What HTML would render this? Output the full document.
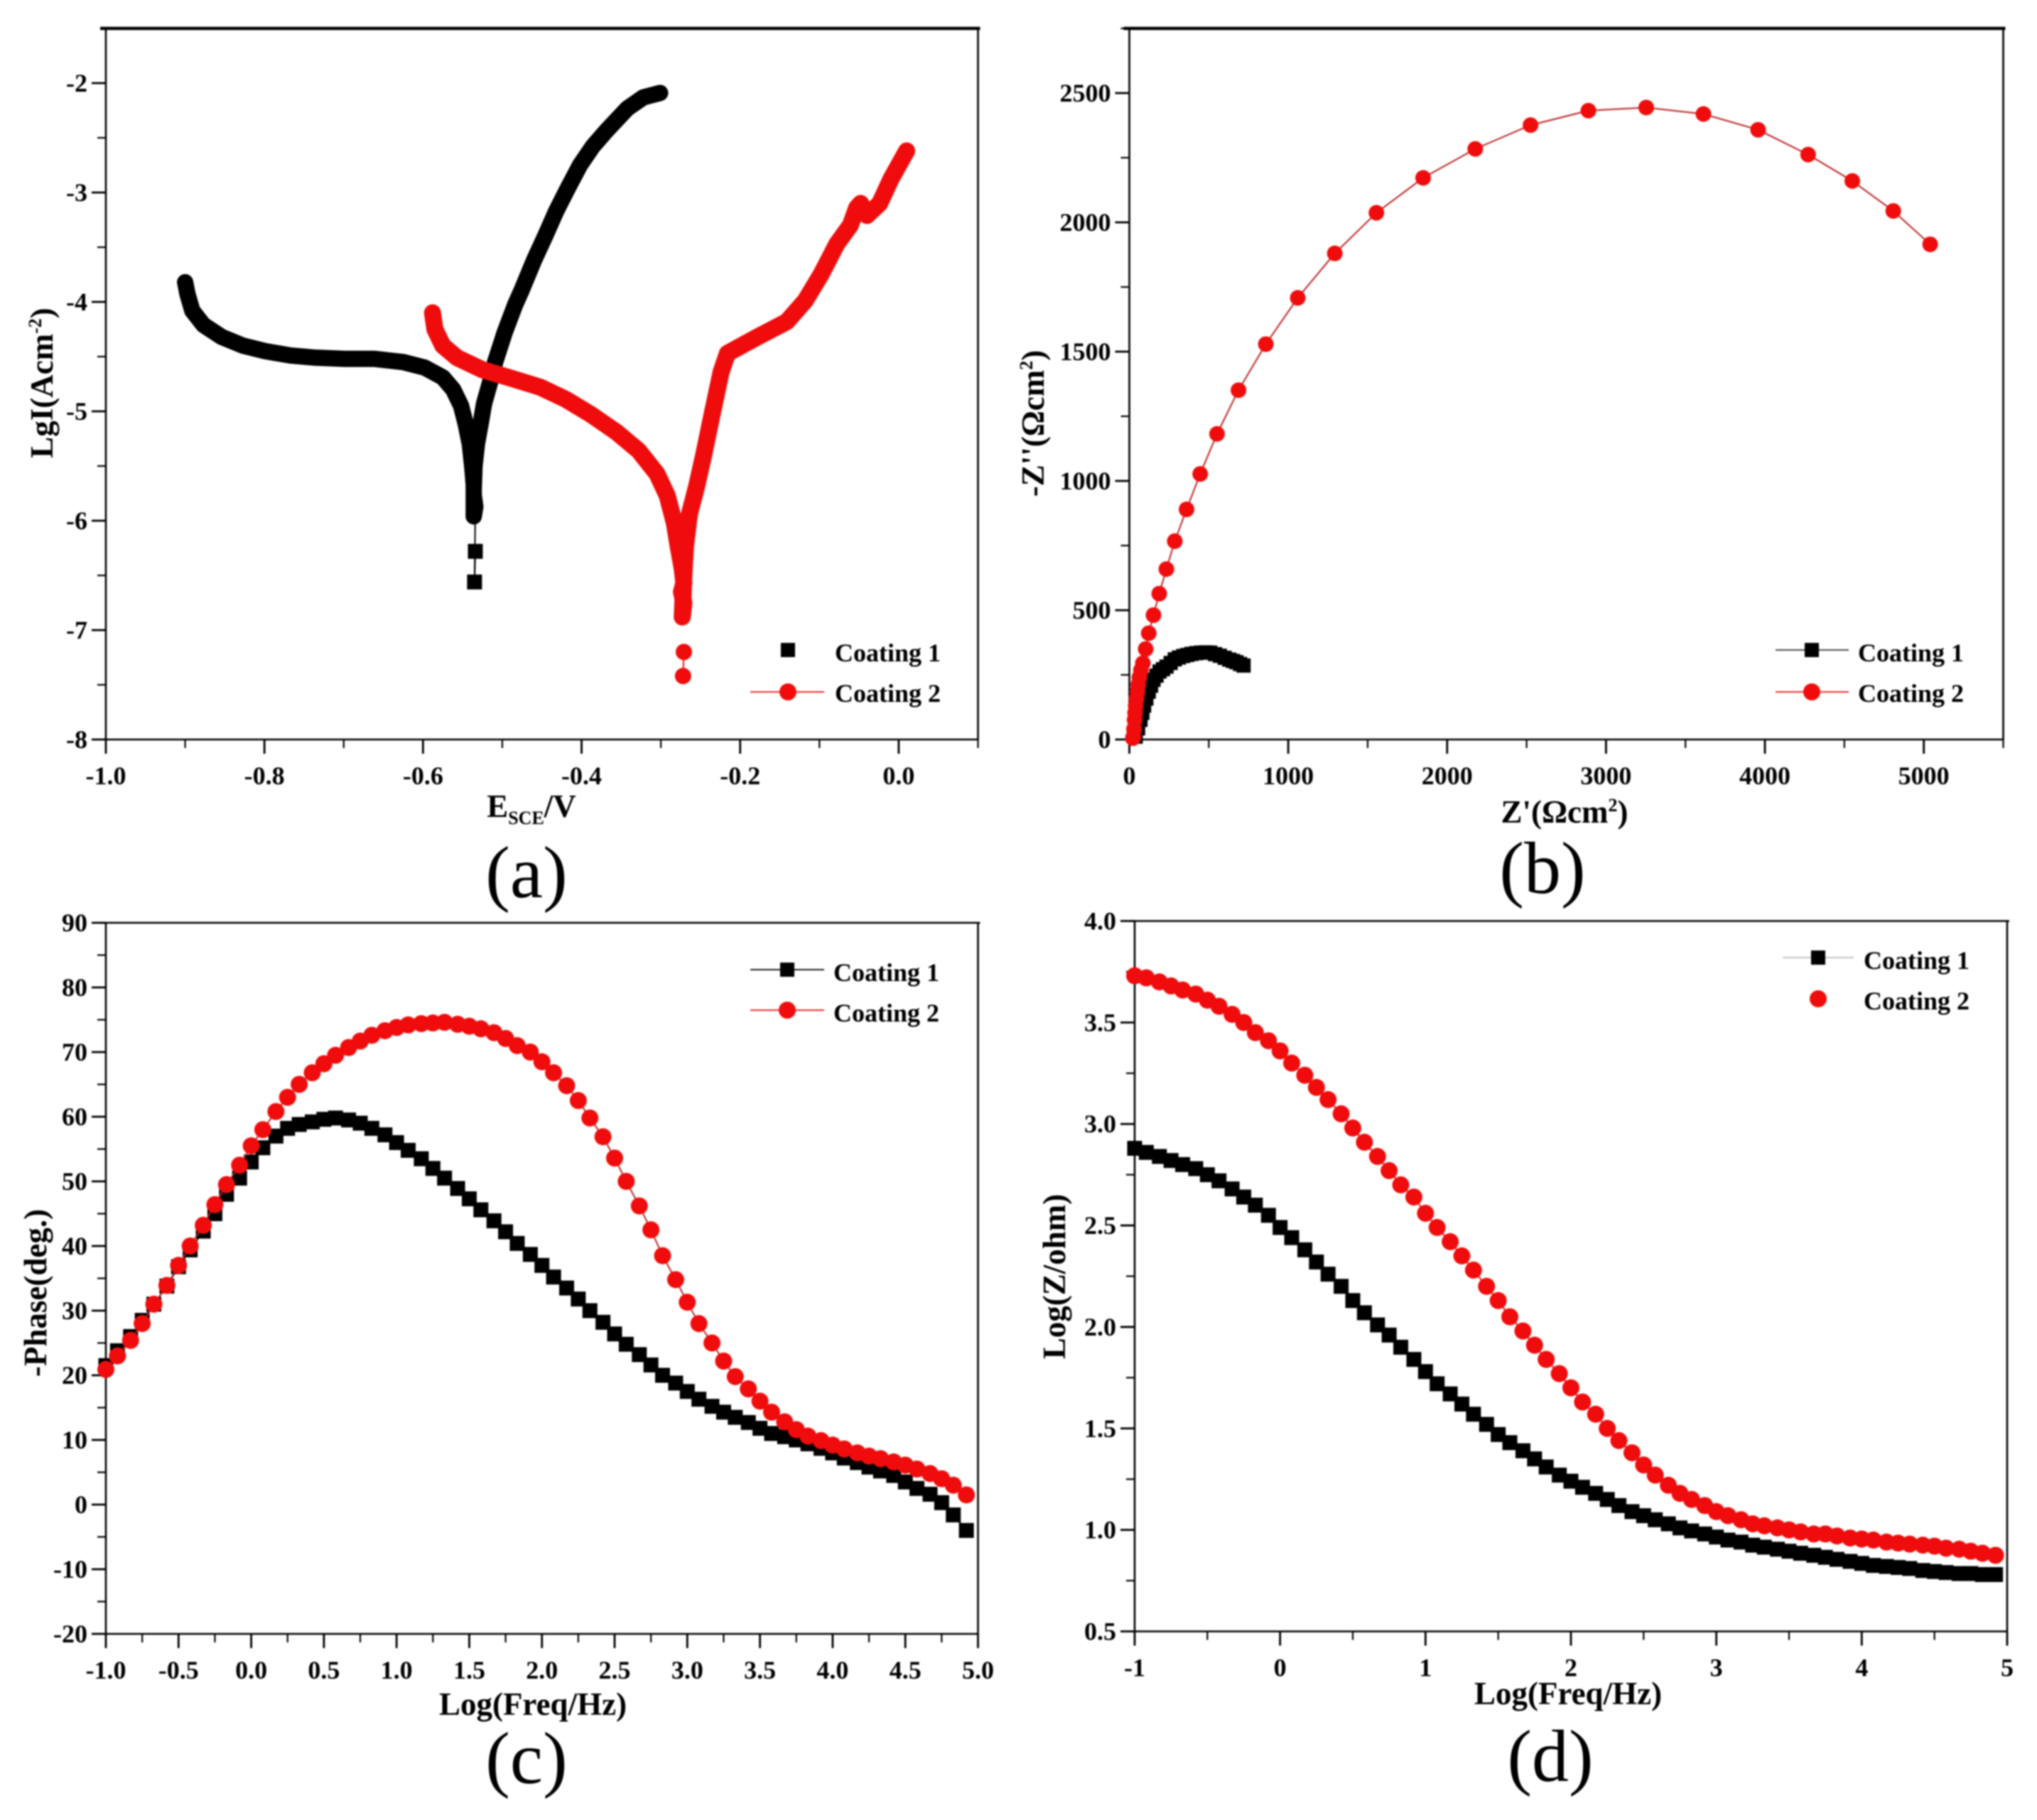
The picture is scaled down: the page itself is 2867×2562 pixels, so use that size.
<!DOCTYPE html>
<html>
<head>
<meta charset="utf-8">
<title>Coating electrochemistry charts</title>
<style>
html,body{margin:0;padding:0;background:#fff}
svg{display:block;filter:blur(1.1px)}
text{font-family:"Liberation Serif",serif;fill:#000}
.tk{font-size:36px;font-weight:bold}
.ttl{font-size:45px;font-weight:bold}
.leg{font-size:36px;font-weight:bold}
.pl{font-size:104px;font-weight:normal}
.sm{font-size:26px}
</style>
</head>
<body>
<svg id="fig" xmlns="http://www.w3.org/2000/svg" width="2867" height="2562" viewBox="0 0 2867 2562">
<rect x="0" y="0" width="2867" height="2562" fill="#fff"/>
<g id="layer-marks"></g>
<text class="ttl" x="748" y="1150" text-anchor="middle">E<tspan class="sm" dy="10">SCE</tspan><tspan dy="-10">/V</tspan></text>
<text class="ttl" transform="translate(74,539) rotate(-90)" text-anchor="middle">LgI(Acm<tspan class="sm" dy="-16">-2</tspan><tspan dy="16">)</tspan></text>
<text class="ttl" x="2202" y="1158" text-anchor="middle">Z'(Ωcm<tspan class="sm" dy="-16">2</tspan><tspan dy="16">)</tspan></text>
<text class="ttl" transform="translate(1469,596) rotate(-90)" text-anchor="middle">-Z''(Ωcm<tspan class="sm" dy="-16">2</tspan><tspan dy="16">)</tspan></text>
<text class="ttl" x="750" y="2414" text-anchor="middle">Log(Freq/Hz)</text>
<text class="ttl" transform="translate(65,1820) rotate(-90)" text-anchor="middle">-Phase(deg.)</text>
<text class="ttl" x="2207" y="2399" text-anchor="middle">Log(Freq/Hz)</text>
<text class="ttl" transform="translate(1499,1797) rotate(-90)" text-anchor="middle">Log(Z/ohm)</text>
<text class="pl" x="741" y="1263" text-anchor="middle">(a)</text>
<text class="pl" x="2171" y="1257" text-anchor="middle">(b)</text>
<text class="pl" x="741" y="2510" text-anchor="middle">(c)</text>
<text class="pl" x="2182" y="2507" text-anchor="middle">(d)</text>
</svg>
<script>
// ---------- shared ----------
const legendNames = ['Coating 1', 'Coating 2'];
const logFreq = [-1.00,-0.92,-0.83,-0.75,-0.67,-0.58,-0.50,-0.42,-0.33,-0.25,-0.17,-0.08,0.00,0.08,0.17,0.25,0.33,0.42,0.50,0.58,0.67,0.75,0.83,0.92,1.00,1.08,1.17,1.25,1.33,1.42,1.50,1.58,1.67,1.75,1.83,1.92,2.00,2.08,2.17,2.25,2.33,2.42,2.50,2.58,2.67,2.75,2.83,2.92,3.00,3.08,3.17,3.25,3.33,3.42,3.50,3.58,3.67,3.75,3.83,3.92,4.00,4.08,4.17,4.25,4.33,4.42,4.50,4.58,4.67,4.75,4.83,4.92];

// ---------- panel a ----------
const aXTicks = ['-1.0','-0.8','-0.6','-0.4','-0.2','0.0'];
const aXMinor = [-0.9,-0.7,-0.5,-0.3,-0.1,0.1];
const aYTicks = ['-2','-3','-4','-5','-6','-7','-8'];
const aYMinor = [-2.5,-3.5,-4.5,-5.5,-6.5,-7.5];
const aBlackE = [-0.900,-0.897,-0.891,-0.877,-0.854,-0.827,-0.799,-0.767,-0.735,-0.699,-0.662,-0.625,-0.598,-0.575,-0.562,-0.552,-0.546,-0.541,-0.538,-0.536,-0.536,-0.534,-0.536,-0.536,-0.535,-0.532,-0.527,-0.523,-0.516,-0.509,-0.497,-0.484,-0.476,-0.460,-0.446,-0.432,-0.418,-0.402,-0.386,-0.368,-0.342,-0.322,-0.301];
const aBlackI = [-3.82,-3.93,-4.08,-4.21,-4.32,-4.40,-4.45,-4.49,-4.51,-4.52,-4.52,-4.55,-4.60,-4.69,-4.80,-4.95,-5.12,-5.30,-5.50,-5.67,-5.77,-5.87,-5.96,-5.70,-5.50,-5.30,-5.10,-4.93,-4.75,-4.55,-4.28,-4.03,-3.90,-3.62,-3.40,-3.17,-2.97,-2.75,-2.58,-2.43,-2.23,-2.13,-2.09];
const aBlackTailE = [-0.534,-0.535];
const aBlackTailI = [-6.28,-6.56];
const aRedE = [-0.588,-0.585,-0.575,-0.557,-0.525,-0.488,-0.452,-0.420,-0.388,-0.356,-0.328,-0.305,-0.292,-0.283,-0.278,-0.273,-0.271,-0.274,-0.271,-0.273,-0.271,-0.269,-0.264,-0.255,-0.246,-0.236,-0.224,-0.216,-0.178,-0.141,-0.118,-0.098,-0.078,-0.061,-0.053,-0.048,-0.040,-0.024,-0.010,0.010];
const aRedI = [-4.10,-4.25,-4.40,-4.51,-4.62,-4.70,-4.78,-4.89,-5.03,-5.19,-5.36,-5.57,-5.77,-6.02,-6.24,-6.44,-6.57,-6.65,-6.75,-6.88,-6.50,-6.24,-5.94,-5.69,-5.40,-5.05,-4.64,-4.47,-4.32,-4.18,-3.99,-3.75,-3.47,-3.30,-3.14,-3.10,-3.21,-3.10,-2.88,-2.62];
const aRedTailE = [-0.271,-0.272];
const aRedTailI = [-7.20,-7.42];

// ---------- panel b ----------
const bXTicks = ['0','1000','2000','3000','4000','5000'];
const bXMinor = [500,1500,2500,3500,4500,5500];
const bYTicks = ['0','500','1000','1500','2000','2500'];
const bYMinor = [250,750,1250,1750,2250,2750];
const bBlackRe = [40,55,70,82,93,107,122,137,152,171,190,212,234,260,286,312,339,365,391,420,450,480,509,540,570,600,629,652,674,697,719];
const bBlackIm = [11,43,76,103,131,158,185,208,231,247,263,272,282,296,310,317,323,327,331,334,336,337,336,330,324,316,309,304,299,292,286];
const bRedRe = [22,25,29,33,36,40,45,51,56,63,73,85,103,122,152,188,233,286,360,446,552,687,859,1060,1293,1555,1849,2177,2525,2889,3253,3613,3957,4272,4550,4808,5040];
const bRedIm = [5,11,40,76,103,131,158,185,212,240,268,295,350,411,481,564,659,767,890,1027,1182,1351,1529,1708,1880,2037,2172,2284,2376,2432,2444,2419,2358,2262,2160,2044,1915];

// ---------- panel c ----------
const cXTicks = ['-1.0','-0.5','0.0','0.5','1.0','1.5','2.0','2.5','3.0','3.5','4.0','4.5','5.0'];
const cXMinor = [-0.75,-0.25,0.25,0.75,1.25,1.75,2.25,2.75,3.25,3.75,4.25,4.75];
const cYTicks = ['-20','-10','0','10','20','30','40','50','60','70','80','90'];
const cYMinor = [-15,-5,5,15,25,35,45,55,65,75,85];
const cBlackPhase = [21.5,23.8,26,28.5,31,33.8,36.8,39.4,42.3,45,48,50.5,53,55.2,57,58.2,58.8,59.2,59.6,59.8,59.5,59,58.2,57.2,56,54.8,53.5,52,50.5,48.9,47.3,45.6,43.9,42.2,40.4,38.7,37,35.2,33.5,31.8,30,28.2,26.4,24.8,23.2,21.6,20,18.8,17.5,16.3,15.2,14.3,13.5,12.7,11.8,11,10.5,10,9.4,8.7,8,7.2,6.5,5.8,5.2,4.5,3.5,2.5,1.6,0.3,-1.6,-4];
const cRedPhase = [20.9,23,25.4,28,31,33.9,37,40,43.2,46.4,49.5,52.5,55.5,58,60.8,63,65,66.8,68.2,69.5,70.7,71.7,72.6,73.3,73.8,74.2,74.4,74.5,74.6,74.3,74,73.6,73,72.1,71,70,68.5,66.8,64.8,62.5,59.8,56.9,53.6,50,46.2,42.5,38.5,34.8,31.3,28,25,22.2,19.8,17.9,16,14.3,12.8,11.6,10.6,9.9,9.2,8.6,8,7.5,7.1,6.6,6.1,5.5,4.8,4,3,1.5];

// ---------- panel d ----------
const dXTicks = ['-1','0','1','2','3','4','5'];
const dXMinor = [-0.5,0.5,1.5,2.5,3.5,4.5];
const dYTicks = ['0.5','1.0','1.5','2.0','2.5','3.0','3.5','4.0'];
const dYMinor = [0.75,1.25,1.75,2.25,2.75,3.25,3.75];
const dBlackZ = [2.88,2.86,2.84,2.82,2.80,2.78,2.75,2.72,2.68,2.64,2.60,2.55,2.49,2.44,2.38,2.32,2.26,2.20,2.13,2.07,2.01,1.96,1.90,1.84,1.78,1.72,1.67,1.62,1.57,1.52,1.47,1.43,1.39,1.35,1.31,1.27,1.24,1.21,1.18,1.15,1.12,1.09,1.07,1.05,1.03,1.01,0.995,0.98,0.965,0.95,0.94,0.925,0.915,0.905,0.895,0.885,0.875,0.865,0.855,0.845,0.835,0.825,0.82,0.815,0.81,0.80,0.795,0.79,0.785,0.785,0.78,0.78];
const dRedZ = [3.73,3.72,3.70,3.68,3.66,3.64,3.61,3.58,3.54,3.50,3.45,3.41,3.36,3.30,3.24,3.18,3.12,3.05,2.98,2.91,2.84,2.77,2.70,2.64,2.56,2.49,2.42,2.35,2.28,2.20,2.13,2.05,1.98,1.91,1.84,1.77,1.70,1.63,1.57,1.50,1.44,1.38,1.32,1.27,1.22,1.18,1.15,1.12,1.09,1.07,1.05,1.03,1.02,1.01,1.00,0.99,0.98,0.98,0.97,0.96,0.955,0.95,0.94,0.935,0.93,0.925,0.92,0.91,0.905,0.895,0.885,0.875];

const NS = 'http://www.w3.org/2000/svg';
const RED = '#f00c0c';
const root = document.getElementById('layer-marks');

function mk(tag, parent, attrs) {
  const el = document.createElementNS(NS, tag);
  for (const k in attrs) el.setAttribute(k, attrs[k]);
  parent.appendChild(el);
  return el;
}

function makeAxes(p, L, T, R, B, xMin, xMax, yMin, yMax, xTicks, xMinor, yTicks, yMinor, topWidth) {
  const g = mk('g', root, {});
  
  
  const sx = v => L + (v - xMin) / (xMax - xMin) * (R - L);
  const sy = v => B - (v - yMin) / (yMax - yMin) * (B - T);
  const frame = mk('g', g, {});
  
  
  mk('line', frame, {x1: L, y1: T - 1, x2: L, y2: B + 1, stroke: '#000', 'stroke-width': 2.6});
  mk('line', frame, {x1: L - 1, y1: B, x2: R + 1, y2: B, stroke: '#000', 'stroke-width': 2.6});
  mk('line', frame, {x1: R, y1: T, x2: R, y2: B + 1, stroke: '#000', 'stroke-width': 2.6});
  mk('line', frame, {x1: L - 8, y1: T, x2: R + 3, y2: T, stroke: '#000', 'stroke-width': topWidth});
  xTicks.forEach(t => {
    const x = sx(Number(t));
    const tick = mk('line', g, {x1: x, y1: B, x2: x, y2: B + 20, stroke: '#000', 'stroke-width': 2.8});
    
    
    const lb = mk('text', g, {x: x, y: B + 63, 'text-anchor': 'middle', class: 'tk'});
    lb.textContent = t;
    
    
  });
  xMinor.forEach(v => {
    const x = sx(v);
    const tick = mk('line', g, {x1: x, y1: B, x2: x, y2: B + 12, stroke: '#000', 'stroke-width': 2.2});
    
    
  });
  yTicks.forEach(t => {
    const y = sy(Number(t));
    const tick = mk('line', g, {x1: L - 20, y1: y, x2: L, y2: y, stroke: '#000', 'stroke-width': 2.8});
    
    
    const lb = mk('text', g, {x: L - 26, y: y + 12, 'text-anchor': 'end', class: 'tk'});
    lb.textContent = t;
    
    
  });
  yMinor.forEach(v => {
    const y = sy(v);
    const tick = mk('line', g, {x1: L - 12, y1: y, x2: L, y2: y, stroke: '#000', 'stroke-width': 2.2});
    
    
  });
  return {g, sx, sy};
}

function marker(parent, kind, x, y, color, size) {
  if (kind === 'square') return mk('rect', parent, {x: x - size / 2, y: y - size / 2, width: size, height: size, fill: color});
  return mk('circle', parent, {cx: x, cy: y, r: size / 2, fill: color});
}

function series(ax, p, name, xs, ys, kind, color, size, lineWidth, lineColor) {
  const g = mk('g', ax.g, {});
  
  
  const pts = xs.map((v, i) => ax.sx(v) + ',' + ax.sy(ys[i])).join(' ');
  mk('polyline', g, {points: pts, fill: 'none', stroke: lineColor, 'stroke-width': lineWidth, 'stroke-linejoin': 'round', 'stroke-linecap': 'round'});
  xs.forEach((v, i) => {
    const m = marker(g, kind, ax.sx(v), ax.sy(ys[i]), color, size);
    
    
  });
  return g;
}

function legend(ax, p, lineX1, lineX2, markX, textX, y1, y2, t1, t2, line1, line2) {
  const g = mk('g', ax.g, {});
  
  
  const rows = [[y1, t1, 'square', '#000', 20, line1], [y2, t2, 'circle', RED, 24, line2]];
  rows.forEach((r, i) => {
    if (r[5]) mk('line', g, {x1: lineX1, y1: r[0], x2: lineX2, y2: r[0], stroke: r[5], 'stroke-width': 1.8});
    const sw = marker(g, r[2], markX, r[0], r[3], r[4]);
    
    
    const tx = mk('text', g, {x: textX, y: r[1], class: 'leg'});
    tx.textContent = legendNames[i];
    
    
  });
}

// Panel a: polarization curves
const axA = makeAxes('a', 149, 40, 1376.5, 1041, -1, 0.1, -8, -1.5, aXTicks, aXMinor, aYTicks, aYMinor, 4.5);
mk('line', axA.g, {x1: axA.sx(aBlackTailE[0]), y1: axA.sy(-5.9), x2: axA.sx(aBlackTailE[1]), y2: axA.sy(aBlackTailI[1]), stroke: '#000', 'stroke-width': 2});
series(axA, 'a', 'coating-1-tail', aBlackTailE, aBlackTailI, 'square', '#000', 21, 2, '#000');
series(axA, 'a', 'coating-1', aBlackE, aBlackI, 'square', '#000', 16, 23, '#000');
series(axA, 'a', 'coating-2-tail', aRedTailE, aRedTailI, 'circle', RED, 23, 2, RED);
series(axA, 'a', 'coating-2', aRedE, aRedI, 'circle', RED, 22, 24, RED);
legend(axA, 'a', 1056, 1160, 1109, 1175, 915, 974, 931, 988, null, RED);

// Panel b: Nyquist
const axB = makeAxes('b', 1589.5, 40, 2819.5, 1041, 0, 5500, 0, 2750, bXTicks, bXMinor, bYTicks, bYMinor, 4.5);
series(axB, 'b', 'coating-1', bBlackRe, bBlackIm, 'square', '#000', 20, 2, '#000');
series(axB, 'b', 'coating-2', bRedRe, bRedIm, 'circle', RED, 22, 2, '#b22');
legend(axB, 'b', 2499, 2602, 2550, 2615, 915, 974, 931, 988, '#333', RED);

// Panel c: Bode phase
const axC = makeAxes('c', 149, 1299, 1376.5, 2300, -1, 5, -20, 90, cXTicks, cXMinor, cYTicks, cYMinor, 2.6);
series(axC, 'c', 'coating-1', logFreq, cBlackPhase, 'square', '#000', 21, 2, '#000');
series(axC, 'c', 'coating-2', logFreq, cRedPhase, 'circle', RED, 24, 2, '#b22');
legend(axC, 'c', 1056, 1160, 1108, 1173, 1365, 1422, 1381, 1438, '#000', RED);

// Panel d: Bode modulus
const axD = makeAxes('d', 1597, 1296.5, 2825, 2296.5, -1, 5, 0.5, 4, dXTicks, dXMinor, dYTicks, dYMinor, 2.6);
series(axD, 'd', 'coating-1', logFreq, dBlackZ, 'square', '#000', 21, 2, '#000');
series(axD, 'd', 'coating-2', logFreq, dRedZ, 'circle', RED, 24, 2, RED);
legend(axD, 'd', 2509, 2609, 2559, 2623, 1348, 1406, 1364, 1421, '#bbb', null);
</script>
</body>
</html>
